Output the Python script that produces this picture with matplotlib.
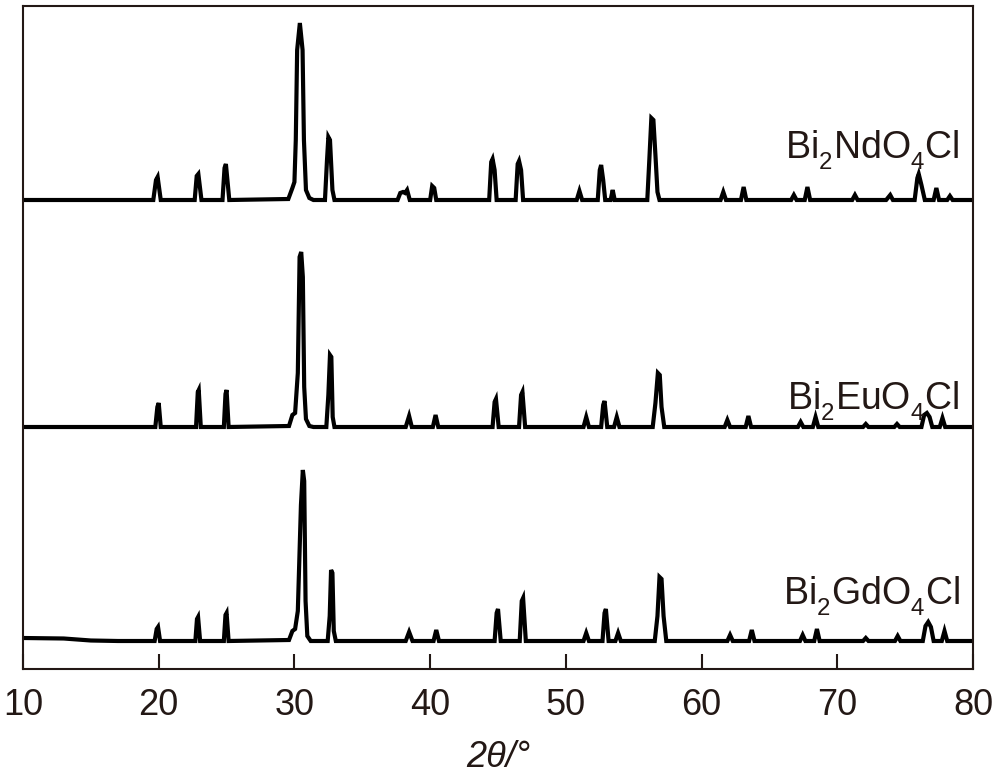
import matplotlib
matplotlib.use("Agg")
import matplotlib.pyplot as plt
import matplotlib._mathtext as _mt

plt.rcParams['font.family'] = ['Liberation Sans', 'DejaVu Sans']
plt.rcParams['mathtext.fontset'] = 'custom'
plt.rcParams['mathtext.rm'] = 'Liberation Sans'
plt.rcParams['mathtext.it'] = 'Liberation Sans:italic'
# lower, slightly smaller subscripts like the reference typesetting
_mt.FontConstantsBase.sub1 = 0.55
_mt.FontConstantsBase.subdrop = 0.55
_mt.SHRINK_FACTOR = 0.64

INK = '#231815'

# ---- data: 2theta (deg) and relative intensity above each baseline ----
nd_x = [10, 19.6, 19.8, 19.92, 20.15, 22.65, 22.8, 22.92, 23.15, 24.7, 24.85, 24.95, 25.2,
        29.55, 29.85, 30.0, 30.1, 30.2, 30.4, 30.6, 30.7, 30.85, 31.1, 31.4,
        32.25, 32.4, 32.5, 32.62, 32.8, 32.95,
        37.6, 37.8, 38.0, 38.15, 38.3, 38.5, 40.0, 40.15, 40.3, 40.45,
        44.35, 44.5, 44.6, 44.75, 44.9, 46.3, 46.45, 46.55, 46.7, 46.85,
        50.8, 51.0, 51.2, 52.35, 52.5, 52.6, 52.75, 52.9, 53.3, 53.45, 53.6,
        56.0, 56.15, 56.3, 56.45, 56.6, 56.75, 56.9,
        61.4, 61.6, 61.8, 62.9, 63.1, 63.3, 66.6, 66.8, 67.0, 67.6, 67.8, 68.0,
        71.1, 71.3, 71.5, 73.6, 73.9, 74.1, 75.7, 75.9, 76.0, 76.2, 76.45,
        77.1, 77.3, 77.5, 78.1, 78.3, 78.5, 80]
nd_y = [0, 0, 20, 23, 0, 0, 24, 26, 0, 0, 32, 36, 0,
        1, 12, 18, 60, 150, 177, 150, 60, 10, 2, 0,
        0, 40, 63, 60, 10, 0,
        0, 7, 8, 7, 10, 0, 0, 14, 12, 0,
        0, 38, 41, 30, 0, 0, 36, 39, 30, 0,
        0, 9, 0, 0, 30, 35, 20, 0, 0, 10, 0,
        0, 40, 82, 80, 45, 8, 0,
        0, 8, 0, 0, 13, 0, 0, 5, 0, 0, 13, 0,
        0, 5, 0, 0, 5, 0, 0, 22, 26, 15, 0,
        0, 12, 0, 0, 4, 0, 0]

eu_x = [10, 19.75, 19.9, 20.0, 20.15, 22.75, 22.88, 22.95, 23.1, 24.8, 24.92, 25.0, 25.15,
        29.6, 29.85, 30.05, 30.25, 30.38, 30.5, 30.62, 30.72, 30.85, 31.1, 31.4,
        32.35, 32.5, 32.62, 32.72, 32.82, 32.95,
        38.2, 38.45, 38.65, 40.2, 40.4, 40.6,
        44.6, 44.75, 44.85, 45.05, 46.55, 46.7, 46.8, 47.0,
        51.3, 51.5, 51.7, 52.6, 52.75, 52.85, 53.05, 53.55, 53.75, 53.95,
        56.4, 56.6, 56.78, 56.92, 57.05, 57.25,
        61.7, 61.9, 62.1, 63.25, 63.45, 63.65, 67.1, 67.3, 67.5, 68.2, 68.4, 68.6,
        71.9, 72.1, 72.3, 74.2, 74.4, 74.6, 76.2, 76.4, 76.6, 76.8, 77.0,
        77.55, 77.75, 77.95, 80]
eu_y = [0, 0, 20, 24, 0, 0, 35, 37, 0, 0, 33, 37, 0,
        1, 12, 14, 54, 170, 175, 150, 40, 8, 1, 0,
        0, 32, 72, 70, 10, 0,
        0, 11, 0, 0, 12, 0,
        0, 25, 28, 0, 0, 32, 35, 0,
        0, 10, 0, 0, 22, 26, 0, 0, 10, 0,
        0, 24, 54, 52, 20, 0,
        0, 7, 0, 0, 11, 0, 0, 5, 0, 0, 10, 0,
        0, 3, 0, 0, 3, 0, 0, 12, 14, 10, 0,
        0, 9, 0, 0]

gd_x = [10, 13, 15, 17, 19.7, 19.85, 19.95, 20.1, 22.7, 22.82, 22.9, 23.05,
        24.8, 24.92, 25.0, 25.15,
        29.6, 29.85, 30.05, 30.25, 30.38, 30.48, 30.62, 30.72, 30.82, 30.95, 31.2,
        32.45, 32.6, 32.7, 32.8, 32.9, 33.05,
        38.2, 38.45, 38.7, 40.25, 40.45, 40.65,
        44.75, 44.9, 45.0, 45.2, 46.6, 46.75, 46.85, 47.05,
        51.3, 51.5, 51.7, 52.7, 52.85, 52.95, 53.15, 53.65, 53.85, 54.05,
        56.55, 56.75, 56.9, 57.05, 57.2, 57.4,
        61.9, 62.1, 62.3, 63.5, 63.7, 63.9, 67.25, 67.45, 67.65, 68.3, 68.5, 68.7,
        71.9, 72.1, 72.3, 74.25, 74.45, 74.65, 76.3, 76.5, 76.7, 76.9, 77.1,
        77.7, 77.9, 78.1, 80]
gd_y = [3, 2.5, 0.5, 0, 0, 12, 14, 0, 0, 22, 24, 0,
        0, 26, 28, 0,
        1, 10, 12, 30, 90, 136, 171, 160, 40, 5, 0,
        0, 25, 71, 68, 10, 0,
        0, 9, 0, 0, 11, 0,
        0, 28, 32, 0, 0, 40, 43, 0,
        0, 8, 0, 0, 28, 32, 0, 0, 8, 0,
        0, 25, 64, 62, 25, 0,
        0, 6, 0, 0, 11, 0, 0, 6, 0, 0, 12, 0,
        0, 3, 0, 0, 5, 0, 0, 15, 19, 14, 0,
        0, 10, 0, 0]

series = [
    (nd_x, nd_y, 469, r'Bi$_2$NdO$_4$Cl', 511),
    (eu_x, eu_y, 242, r'Bi$_2$EuO$_4$Cl', 260),
    (gd_x, gd_y, 28, r'Bi$_2$GdO$_4$Cl', 65),
]
xticks = [10, 20, 30, 40, 50, 60, 70, 80]

fig = plt.figure(figsize=(10, 7.74), dpi=100)
ax = fig.add_axes([0.023, 1 - 669 / 774, 0.950, 663 / 774])

for xs, ys, off, label, ly in series:
    ax.plot(xs, [v + off for v in ys], color='black', lw=3.0,
            solid_joinstyle='miter')
    ax.text(79.05, ly, label, ha='right', va='baseline', fontsize=27, color=INK)

ax.set_xlim(10, 80)
ax.set_ylim(0, 663)
ax.set_xticks(xticks)
ax.set_xticklabels([str(t) for t in xticks])
ax.set_yticks([])
ax.tick_params(axis='x', direction='in', length=11, width=1.5, colors=INK,
               labelsize=26, pad=14, labelcolor=INK)
for sp in ax.spines.values():
    sp.set_linewidth(1.5)
    sp.set_color(INK)

ax.set_xlabel('2θ/°', fontsize=26, style='italic', color=INK, va='baseline')
ax.xaxis.set_label_coords(0.5, -(767 - 669) / 663)

fig.savefig('out.png', dpi=100)
